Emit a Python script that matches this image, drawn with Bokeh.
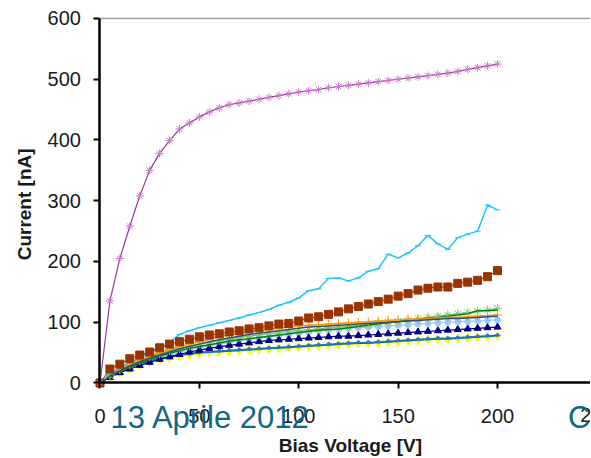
import math
from bokeh.plotting import figure
from bokeh.models import Range1d, Label, FixedTicker, LinearAxis
from bokeh.embed import file_html
from bokeh.resources import INLINE

# ---- data (Bias Voltage [V], Current [nA]) ----
voltage = [0, 5, 10, 15, 20, 25, 30, 35, 40, 45, 50, 55, 60, 65, 70, 75, 80, 85, 90, 95,
           100, 105, 110, 115, 120, 125, 130, 135, 140, 145, 150, 155, 160, 165, 170, 175,
           180, 185, 190, 195, 200]

purple = [0, 135, 205, 258, 308, 350, 378, 399, 418, 428, 438, 446, 453, 458, 461, 464, 467,
          470, 473, 476, 479, 481, 483, 486, 488, 490, 492, 494, 496, 498, 500, 502, 504, 506,
          508, 510, 513, 516, 519, 522, 525]
light_blue = [0, 15, 25, 34, 42, 50, 57, 66, 80, 86, 91, 95, 99, 103, 107, 112, 116, 121, 128,
              133, 140, 152, 155, 172, 173, 168, 173, 184, 188, 212, 206, 214, 226, 243, 229,
              220, 239, 245, 250, 293, 285]
brown = [0, 23, 31, 40, 46, 51, 58, 64, 68, 72, 76, 79, 81, 84, 86, 89, 91, 94, 97, 98, 102,
         107, 109, 113, 117, 122, 126, 130, 134, 138, 143, 147, 153, 156, 158, 158, 164, 166,
         169, 175, 185]
orange = [0, 14, 23, 31, 38, 44, 50, 55, 60, 64, 68, 72, 76, 79, 82, 84, 86, 88, 90, 92, 94,
          95, 96, 97, 98, 99, 100, 101, 102, 103, 104, 105, 105, 106, 107, 108, 108, 109, 110,
          111, 112]
green_star = [0, 12, 22, 30, 37, 43, 48, 53, 57, 61, 64, 67, 70, 72, 75, 77, 79, 81, 83, 85,
              86, 88, 89, 91, 92, 93, 95, 96, 98, 100, 102, 104, 106, 108, 110, 112, 114, 116,
              118, 120, 123]
dark_green = [0, 11, 19, 26, 33, 39, 44, 49, 53, 57, 60, 63, 66, 69, 71, 73, 75, 77, 79, 81,
              83, 85, 87, 88, 89, 91, 93, 95, 97, 99, 101, 103, 105, 107, 108, 110, 112, 114,
              119, 119, 120]
slate = [0, 12, 20, 28, 35, 41, 46, 51, 56, 60, 64, 68, 71, 74, 77, 80, 82, 84, 86, 88, 90,
         92, 93, 94, 95, 96, 97, 98, 99, 100, 101, 102, 103, 104, 105, 106, 106, 107, 108,
         109, 110]
pale_blue = [0, 10, 18, 25, 31, 37, 42, 46, 50, 54, 58, 61, 64, 67, 70, 72, 74, 76, 78, 80,
             82, 84, 86, 87, 88, 90, 91, 92, 93, 94, 95, 96, 97, 98, 99, 100, 101, 101, 102,
             103, 104]
navy = [0, 9, 17, 23, 29, 34, 39, 43, 47, 51, 54, 57, 60, 62, 64, 66, 68, 70, 71, 72, 73,
        74, 75, 76, 77, 77, 78, 79, 80, 81, 82, 83, 84, 85, 86, 87, 88, 89, 90, 91, 92]
yellow = [0, 10, 17, 23, 29, 34, 38, 41, 44, 46, 48, 50, 51, 52, 53, 54, 55, 56, 57, 58, 59,
          60, 61, 62, 63, 64, 65, 65, 66, 67, 68, 69, 70, 71, 72, 72, 73, 74, 75, 76, 77]
teal = [0, 12, 20, 27, 32, 37, 40, 43, 46, 48, 50, 51, 52, 53, 54, 55, 56, 57, 58, 59, 60,
        61, 62, 63, 64, 65, 66, 66, 67, 68, 69, 70, 71, 72, 73, 73, 74, 75, 76, 77, 78]
blue_dot = [0, 11, 19, 26, 31, 36, 40, 43, 46, 48, 50, 52, 53, 54, 55, 56, 57, 58, 59, 60,
            61, 62, 63, 64, 65, 66, 67, 67, 68, 69, 70, 71, 72, 73, 74, 74, 75, 76, 77, 78, 79]

x_ticks = [0, 50, 100, 150, 200]
x_hidden_tick = 250
y_ticks = [0, 100, 200, 300, 400, 500, 600]
x_label = "Bias Voltage [V]"
y_label = "Current [nA]"
footer_text = "13 Aprile 2012"
footer_cut = "C"

FONT = "Liberation Sans"
TXT = "#1a1a1a"
FOOT = "#10677F"

# data window (the frame covers the whole canvas; axes sit at x=0 / y=0)
X0, X1 = -50.06, 246.8
Y0, Y1 = -121.0, 629.6

p = figure(width=590, height=456, output_backend="svg", toolbar_location=None,
           x_range=Range1d(X0, X1), y_range=Range1d(Y0, Y1),
           x_axis_location=None, y_axis_location=None,
           min_border_left=0, min_border_right=0, min_border_top=0, min_border_bottom=0)
p.xgrid.visible = False
p.ygrid.visible = False
p.outline_line_color = None
p.background_fill_color = "white"
p.border_fill_color = "white"

xax = LinearAxis(fixed_location=0, bounds=(0, X1))
yax = LinearAxis(fixed_location=0, bounds=(0, y_ticks[-1]))
p.add_layout(xax, "below")
p.add_layout(yax, "left")

for ax in (xax, yax):
    ax.axis_line_color = "black"
    ax.axis_line_width = 2.5
    ax.major_tick_line_color = "black"
    ax.major_tick_line_width = 2
    ax.major_tick_out = 6
    ax.major_tick_in = 0
    ax.minor_tick_line_color = None
    ax.major_label_text_font = FONT
    ax.major_label_text_font_size = "20px"
    ax.major_label_text_color = TXT

xax.ticker = FixedTicker(ticks=x_ticks)
yax.ticker = FixedTicker(ticks=y_ticks)
xax.major_label_standoff = 20
yax.major_label_standoff = 13

# top border line of the plot area
p.segment(x0=[0], y0=[y_ticks[-1]], x1=[X1], y1=[y_ticks[-1]], line_color="#a0a0a0", line_width=1.5)

def series(vals, color, marker=None, size=7, line_width=1.2, mcolor=None, dash="solid"):
    p.line(voltage, vals, line_color=color, line_width=line_width, line_dash=dash)
    if marker:
        mc = mcolor or color
        p.scatter(voltage, vals, marker=marker, size=size, line_color=mc, fill_color=mc)

series(pale_blue, "#99CCFF", "circle", 6, 1.2)
series(yellow, "#FFFF00", "diamond", 9, 1.5)
series(teal, "#008080", "dash", 6, 2)
series(blue_dot, "#3366FF", "circle", 3, 1, dash="2 2")
series(navy, "#000080", "triangle", 7, 1.2)
series(green_star, "#66AA66", "asterisk", 9, 1.0, mcolor="#77CC77")
series(dark_green, "#008000", None, line_width=1.5)
series(orange, "#FF9900", "cross", 9, 1.5)
series(slate, "#2F4F6F", None, line_width=1.5)
series(light_blue, "#22C4FF", "dash", 6, 1.5)
series(brown, "#993300", "square", 8, 1.0)
series(purple, "#993399", "asterisk", 8, 1.2, mcolor="#CC77CC")

# axis titles
p.add_layout(Label(x=126, y=-103, text=x_label, text_font=FONT, text_font_size="19px",
                   text_font_style="bold", text_color=TXT, text_align="center",
                   text_baseline="middle"))
p.add_layout(Label(x=-38, y=294, text=y_label, text_font=FONT, text_font_size="19px",
                   text_font_style="bold", text_color=TXT, text_align="center",
                   text_baseline="middle", angle=math.pi / 2))

# tick label of 250, partly beyond the right edge
p.add_layout(Label(x=x_hidden_tick, y=-53.5, text=str(x_hidden_tick), text_font=FONT,
                   text_font_size="20px", text_color=TXT, text_align="center",
                   text_baseline="middle"))
# slide footer overlay
p.add_layout(Label(x=5.3, y=-57.6, text=footer_text, text_font=FONT, text_font_size="31px",
                   text_color=FOOT, text_align="left", text_baseline="middle"))
p.add_layout(Label(x=235.5, y=-57.6, text=footer_cut, text_font=FONT, text_font_size="31px",
                   text_color=FOOT, text_align="left", text_baseline="middle"))

open("out.html", "w").write(file_html(p, INLINE))
